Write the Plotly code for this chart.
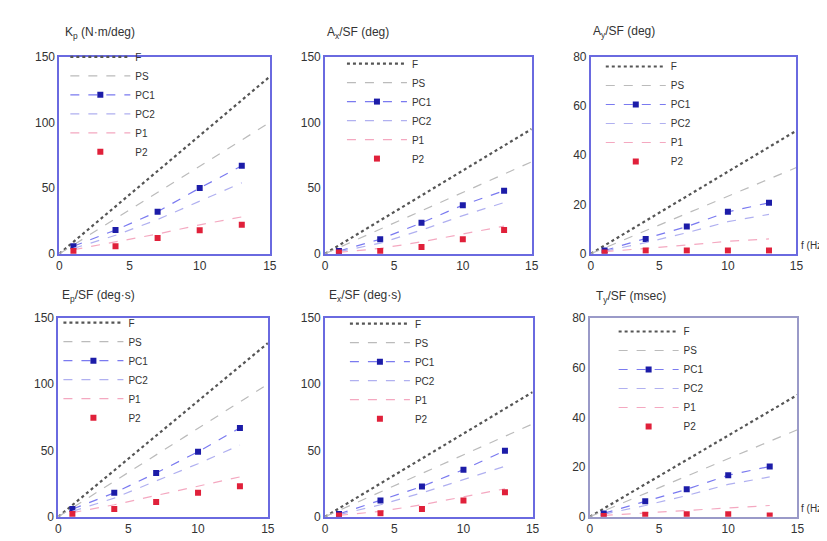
import plotly.graph_objects as go

W, H = 827, 541

# ---------------- data ----------------
x_pts = [1, 4, 7, 10, 13]
x_line = [0, 15]

titles = ["K<sub>p</sub> (N·m/deg)", "A<sub>x</sub>/SF (deg)", "A<sub>y</sub>/SF (deg)",
          "E<sub>p</sub>/SF (deg·s)", "E<sub>x</sub>/SF (deg·s)", "T<sub>y</sub>/SF (msec)"]
y_max = [150, 150, 80, 150, 150, 80]
y_ticks = [[0, 50, 100, 150], [0, 50, 100, 150], [0, 20, 40, 60, 80],
           [0, 50, 100, 150], [0, 50, 100, 150], [0, 20, 40, 60, 80]]
x_ticks = [0, 5, 10, 15]

F_y = [[0, 135], [0, 95], [0, 50], [0, 131], [0, 94], [0, 49]]
PS_y = [[0, 100], [0, 70], [0, 35], [0, 100], [0, 70], [0, 35]]
PC1_y = [[5.7, 18, 32, 50, 67], [2, 11, 23.5, 37, 48], [1.3, 6, 11, 17, 20.7],
         [5.7, 18, 33, 49, 67], [2, 12.3, 22.8, 35.5, 49.8], [1.3, 6.2, 11, 16.7, 20.2]]
PC2_y = [[4, 14, 26, 40, 54], [1.5, 8, 18, 29, 39], [1, 4.5, 8.5, 13, 16],
         [4, 14, 27, 40, 54], [1.5, 9, 18, 28, 38], [1, 4.5, 8.5, 13, 16]]
P1_y = [[3, 9, 15, 22, 28], [1, 4, 9, 15, 21], [0.8, 2, 3.5, 5, 6],
        [3, 9, 16, 23, 30], [1, 4, 9, 15, 21], [0.5, 1.5, 2.5, 3.5, 4.5]]
P2_y = [[2, 5.7, 12, 17.8, 22], [0.8, 2, 5, 11, 18], [0.5, 1.3, 1.3, 1.3, 1.3],
        [2, 5.7, 11, 18, 23], [0.8, 2.5, 5.7, 12.3, 18.4], [0.3, 0.8, 1, 1, 0.5]]
names = ["F", "PS", "PC1", "PC2", "P1", "P2"]

# ---------------- layout geometry (pixels) ----------------
px_x = [(49, 262), (318, 527), (587, 795), (48, 260), (318, 528), (586, 796)]
px_y = [(43, 245), (43, 245), (43, 245), (311, 515), (311, 515), (311, 515)]
legend_pos = [(55, 28), (335, 35), (597, 38), (48, 301), (338, 302), (610, 310)]
title_pos = [(53, 18), (318, 18), (587, 17), (50, 288), (320, 288), (590, 290)]

fig = go.Figure()
layout = dict(width=W, height=H, margin=dict(l=0, r=0, t=0, b=0),
              plot_bgcolor="white", paper_bgcolor="white",
              font=dict(family="Liberation Sans, Arial", size=12, color="#333"),
              annotations=[])

for i in range(6):
    k = i + 1
    xa = "x" if k == 1 else f"x{k}"
    ya = "y" if k == 1 else f"y{k}"
    lg = "legend" if k == 1 else f"legend{k}"
    axcol = "#6a6ae0" if i != 5 else "#9a9ac8"

    fig.add_trace(go.Scatter(x=x_line, y=F_y[i], mode="lines", name=names[0],
                             line=dict(color="#555", width=2.2, dash="dot"),
                             xaxis=xa, yaxis=ya, legend=lg))
    fig.add_trace(go.Scatter(x=x_line, y=PS_y[i], mode="lines", name=names[1],
                             line=dict(color="#bbb", width=1.2, dash="dash"),
                             xaxis=xa, yaxis=ya, legend=lg))
    fig.add_trace(go.Scatter(x=x_pts, y=PC1_y[i], mode="lines+markers", name=names[2],
                             line=dict(color="#7a7af0", width=1.2, dash="dash"),
                             marker=dict(symbol="square", size=6, color="#1c1ca8"),
                             xaxis=xa, yaxis=ya, legend=lg))
    fig.add_trace(go.Scatter(x=x_pts, y=PC2_y[i], mode="lines", name=names[3],
                             line=dict(color="#b0b0f0", width=1.2, dash="dash"),
                             xaxis=xa, yaxis=ya, legend=lg))
    fig.add_trace(go.Scatter(x=x_pts, y=P1_y[i], mode="lines", name=names[4],
                             line=dict(color="#f4a8c0", width=1.2, dash="dash"),
                             xaxis=xa, yaxis=ya, legend=lg))
    fig.add_trace(go.Scatter(x=x_pts, y=P2_y[i], mode="markers", name=names[5],
                             marker=dict(symbol="square", size=6, color="#e0203a"),
                             xaxis=xa, yaxis=ya, legend=lg))

    x0, x1 = px_x[i]
    y0, y1 = px_y[i]
    xdom = [x0 / W, x1 / W]
    ydom = [(H - y1) / H, (H - y0) / H]
    axkey_x = "xaxis" if k == 1 else f"xaxis{k}"
    axkey_y = "yaxis" if k == 1 else f"yaxis{k}"
    layout[axkey_x] = dict(domain=xdom, range=[0, 15], tickvals=x_ticks, anchor=ya,
                           showline=True, mirror=True, linecolor=axcol, linewidth=2,
                           showgrid=False, zeroline=False, ticks="",
                           tickfont=dict(size=12, color="#333"))
    layout[axkey_y] = dict(domain=ydom, range=[0, y_max[i]], tickvals=y_ticks[i], anchor=xa,
                           showline=True, mirror=True, linecolor=axcol, linewidth=2,
                           showgrid=False, zeroline=False, ticks="",
                           tickfont=dict(size=12, color="#333"))
    lx, ly = legend_pos[i]
    layout[lg] = dict(x=lx / W, y=1 - ly / H, xanchor="left", yanchor="top",
                      bgcolor="rgba(0,0,0,0)", font=dict(size=10, color="#333"),
                      itemwidth=60, tracegroupgap=0)
    tx, ty = title_pos[i]
    layout["annotations"].append(dict(text=titles[i], x=tx / W, y=1 - ty / H,
                                      xref="paper", yref="paper", xanchor="left",
                                      yanchor="middle", showarrow=False,
                                      font=dict(size=12, color="#333")))

for (ax, ay) in [(826, 237), (826, 507)]:
    layout["annotations"].append(dict(text="f (Hz)", x=ax / W, y=1 - ay / H,
                                      xref="paper", yref="paper", xanchor="right",
                                      yanchor="middle", showarrow=False,
                                      font=dict(size=10, color="#333")))

fig.update_layout(**layout)
fig.write_html("out.html")
